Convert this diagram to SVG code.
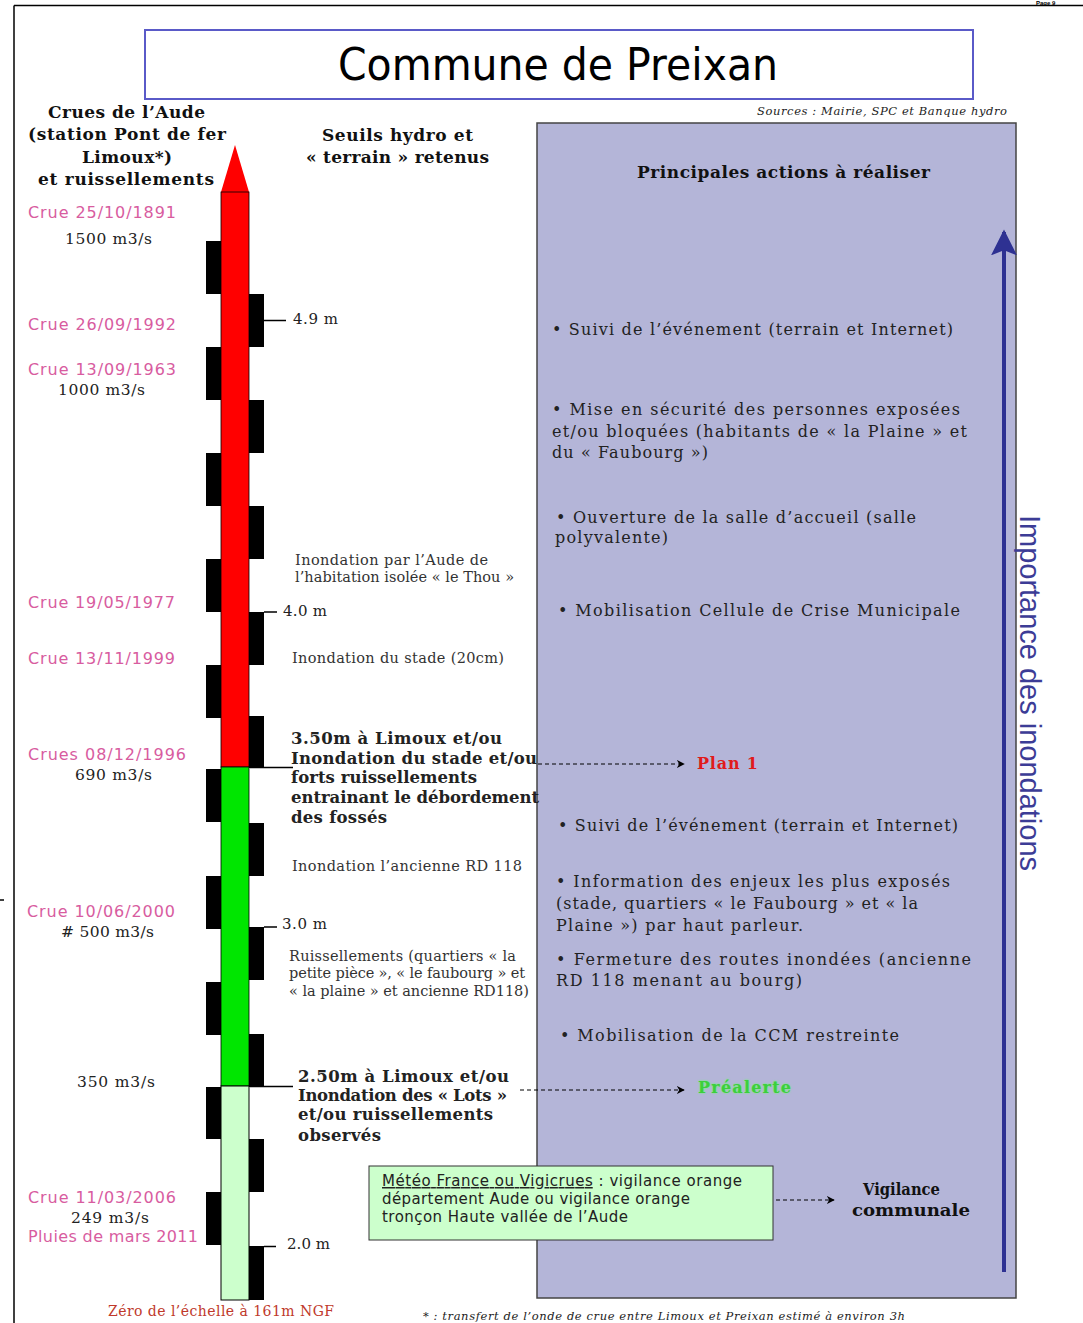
<svg xmlns="http://www.w3.org/2000/svg" width="1083" height="1323" viewBox="0 0 1083 1323">
<style>
.hdr{font-family:"DejaVu Serif","Liberation Serif",serif;font-weight:bold;font-size:17px;fill:#111}
.date{font-family:"DejaVu Sans","Liberation Sans",sans-serif;font-size:16px;fill:#d85c9f}
.flow{font-family:"DejaVu Serif","Liberation Serif",serif;font-size:15.5px;fill:#222}
.small{font-family:"DejaVu Serif","Liberation Serif",serif;font-size:14.5px;fill:#333}
.bold{font-family:"DejaVu Serif","Liberation Serif",serif;font-weight:bold;font-size:16.5px;fill:#222}
.act{font-family:"DejaVu Serif","Liberation Serif",serif;font-size:16px;fill:#222}
.lvl{font-family:"DejaVu Serif","Liberation Serif",serif;font-size:15px;fill:#222}
.blk{fill:#000}
.tick{stroke:#000;stroke-width:1.5}
.dash{stroke:#000;stroke-width:1;stroke-dasharray:4 3;fill:none}
.hand{font-family:"DejaVu Sans","Liberation Sans",sans-serif;font-size:15px;fill:#222}
.ital{font-family:"DejaVu Serif","Liberation Serif",serif;font-style:italic;font-size:11.5px;fill:#222}
.vig{font-family:"DejaVu Serif","Liberation Serif",serif;font-weight:bold;font-size:16px;fill:#111}
</style>
<defs>
<marker id="ah" viewBox="0 0 10 10" refX="9" refY="5" markerWidth="8" markerHeight="8" markerUnits="userSpaceOnUse" orient="auto">
<path d="M0,0 L10,5 L0,10 L3,5 Z" fill="#000"/>
</marker>
<marker id="bh" viewBox="0 0 10 10" refX="9" refY="5" markerWidth="26" markerHeight="26" markerUnits="userSpaceOnUse" orient="auto">
<path d="M0,0 L10,5 L0,10 L2,5 Z" fill="#2e3192"/>
</marker>
<filter id="glow" x="-20%" y="-40%" width="140%" height="180%">
<feGaussianBlur stdDeviation="1.2"/>
</filter>
</defs>
<rect width="1083" height="1323" fill="#fff"/>
<g id="page-frame">
<line x1="14" y1="5.5" x2="1083" y2="5.5" stroke="#000" stroke-width="1.5"/>
<line x1="14" y1="5.5" x2="14" y2="1323" stroke="#000" stroke-width="1.5"/>
<line x1="0" y1="900" x2="4" y2="900" stroke="#000" stroke-width="1.5"/>
<text x="1036" y="4.5" font-family="Liberation Sans,sans-serif" font-weight="bold" font-size="6" fill="#000">Page 9</text>
</g>
<g id="title">
<rect x="145" y="30" width="828" height="69" fill="#fff" stroke="#5a5ac8" stroke-width="2"/>
<text x="338" y="80" font-family="DejaVu Sans,sans-serif" font-size="45" fill="#000" textLength="440" lengthAdjust="spacingAndGlyphs">Commune de Preixan</text>
</g>
<g id="sources">
<text class="ital" x="757" y="115" textLength="250">Sources : Mairie,  SPC et Banque hydro</text>
</g>
<g id="header-crues">
<text class="hdr" x="48" y="118" textLength="157">Crues de l’Aude</text>
<text class="hdr" x="28" y="140" textLength="198">(station Pont de fer</text>
<text class="hdr" x="82" y="163" textLength="90">Limoux*)</text>
<text class="hdr" x="38" y="185" textLength="176">et ruissellements</text>
</g>
<g id="header-seuils">
<text class="hdr" x="322" y="141" textLength="151">Seuils hydro  et</text>
<text class="hdr" x="306" y="163" textLength="183">« terrain » retenus</text>
</g>
<g id="panel">
<rect x="537" y="123" width="479" height="1175" fill="#b4b5d8" stroke="#444" stroke-width="1.5"/>
<text class="hdr" x="637" y="178" textLength="293">Principales actions à réaliser</text>
</g>
<g id="scale">
<polygon points="235,145 249,192 221,192" fill="#ff0000"/>
<rect x="221" y="192" width="28" height="575" fill="#ff0000" stroke="#000" stroke-width="0.8"/>
<rect x="221" y="767" width="28" height="319" fill="#00e600" stroke="#000" stroke-width="0.8"/>
<rect x="221" y="1086" width="28" height="214" fill="#ccffcc" stroke="#000" stroke-width="1"/>
<rect class="blk" x="206" y="241" width="15" height="53"/>
<rect class="blk" x="249" y="294" width="15" height="53"/>
<rect class="blk" x="206" y="347" width="15" height="53"/>
<rect class="blk" x="249" y="400" width="15" height="53"/>
<rect class="blk" x="206" y="453" width="15" height="53"/>
<rect class="blk" x="249" y="506" width="15" height="53"/>
<rect class="blk" x="206" y="559" width="15" height="53"/>
<rect class="blk" x="249" y="612" width="15" height="53"/>
<rect class="blk" x="206" y="665" width="15" height="53"/>
<rect class="blk" x="249" y="716" width="15" height="52"/>
<rect class="blk" x="206" y="769" width="15" height="53"/>
<rect class="blk" x="249" y="823" width="15" height="53"/>
<rect class="blk" x="206" y="876" width="15" height="53"/>
<rect class="blk" x="249" y="927" width="15" height="53"/>
<rect class="blk" x="206" y="982" width="15" height="53"/>
<rect class="blk" x="249" y="1034" width="15" height="53"/>
<rect class="blk" x="206" y="1087" width="15" height="52"/>
<rect class="blk" x="249" y="1139" width="15" height="53"/>
<rect class="blk" x="206" y="1192" width="15" height="53"/>
<rect class="blk" x="249" y="1246" width="15" height="54"/>
<line class="tick" x1="264" y1="320.5" x2="286" y2="320.5"/>
<line class="tick" x1="264" y1="612" x2="277" y2="612"/>
<line class="tick" x1="250" y1="767.5" x2="293" y2="767.5"/>
<line class="tick" x1="264" y1="927" x2="277" y2="927"/>
<line class="tick" x1="250" y1="1086.5" x2="293" y2="1086.5"/>
<line class="tick" x1="264" y1="1246.5" x2="276" y2="1246.5"/>
<text class="lvl" x="293" y="324" textLength="45">4.9 m</text>
<text class="lvl" x="283" y="615.5" textLength="44">4.0 m</text>
<text class="lvl" x="282" y="929" textLength="45">3.0 m</text>
<text class="lvl" x="287" y="1249" textLength="43">2.0 m</text>
</g>
<g id="crues">
<text class="date" x="28" y="218" textLength="148">Crue 25/10/1891</text>
<text class="flow" x="65" y="244" textLength="87">1500 m3/s</text>
<text class="date" x="28" y="330" textLength="148">Crue 26/09/1992</text>
<text class="date" x="28" y="375" textLength="148">Crue 13/09/1963</text>
<text class="flow" x="58" y="395" textLength="87">1000 m3/s</text>
<text class="date" x="28" y="608" textLength="147">Crue 19/05/1977</text>
<text class="date" x="28" y="664" textLength="147">Crue 13/11/1999</text>
<text class="date" x="28" y="760" textLength="158">Crues 08/12/1996</text>
<text class="flow" x="75" y="780" textLength="77">690 m3/s</text>
<text class="date" x="27" y="917" textLength="148">Crue 10/06/2000</text>
<text class="flow" x="61" y="937" textLength="93"># 500 m3/s</text>
<text class="flow" x="77" y="1087" textLength="78">350 m3/s</text>
<text class="date" x="28" y="1203" textLength="148">Crue 11/03/2006</text>
<text class="flow" x="71" y="1223" textLength="78">249 m3/s</text>
<text class="date" x="28" y="1242" textLength="170">Pluies de mars 2011</text>
<text x="108" y="1316" font-family="DejaVu Serif,Liberation Serif,serif" font-size="14" fill="#c0392b" textLength="226">Zéro de l’échelle à 161m NGF</text>
</g>
<g id="seuils">
<text class="small" x="295" y="565" textLength="193">Inondation par l’Aude de</text>
<text class="small" x="295" y="582" textLength="219">l’habitation isolée « le Thou »</text>
<text class="small" x="292" y="663" textLength="212">Inondation du stade (20cm)</text>
<text class="bold" x="291" y="744" textLength="211">3.50m à Limoux et/ou</text>
<text class="bold" x="291" y="764" textLength="246">Inondation du stade et/ou</text>
<text class="bold" x="291" y="783" textLength="186">forts ruissellements</text>
<text class="bold" x="291" y="803" textLength="248">entrainant le débordement</text>
<text class="bold" x="291" y="823" textLength="96">des fossés</text>
<text class="small" x="292" y="871" textLength="230">Inondation l’ancienne RD 118</text>
<text class="small" x="289" y="961" textLength="227">Ruissellements (quartiers « la</text>
<text class="small" x="289" y="978" textLength="236">petite pièce », « le faubourg » et</text>
<text class="small" x="289" y="996" textLength="240">« la plaine » et ancienne RD118)</text>
<text class="bold" x="298" y="1082" textLength="211">2.50m à Limoux et/ou</text>
<text class="bold" x="298" y="1101" textLength="209">Inondation des « Lots »</text>
<text class="bold" x="298" y="1120" textLength="195">et/ou ruissellements</text>
<text class="bold" x="298" y="1141" textLength="83">observés</text>
</g>
<g id="actions-plan1">
<text class="act" x="552" y="335" textLength="401">• Suivi de l’événement (terrain et Internet)</text>
<text class="act" x="552" y="415" textLength="408">•  Mise en sécurité des personnes exposées</text>
<text class="act" x="552" y="437" textLength="415">et/ou bloquées (habitants de « la Plaine » et</text>
<text class="act" x="552" y="458" textLength="156">du  « Faubourg  »)</text>
<text class="act" x="556" y="523" textLength="360">• Ouverture de la salle d’accueil (salle</text>
<text class="act" x="555" y="543" textLength="113">polyvalente)</text>
<text class="act" x="558" y="616" textLength="402">• Mobilisation Cellule de Crise Municipale</text>
</g>
<g id="actions-prealerte">
<text class="act" x="558" y="831" textLength="400">• Suivi de l’événement (terrain et Internet)</text>
<text class="act" x="556" y="887" textLength="394">• Information des  enjeux les plus  exposés</text>
<text class="act" x="556" y="909" textLength="362">(stade, quartiers « le Faubourg  » et « la</text>
<text class="act" x="556" y="931" textLength="247">Plaine ») par  haut parleur.</text>
<text class="act" x="556" y="965" textLength="415">• Fermeture des routes inondées (ancienne</text>
<text class="act" x="556" y="986" textLength="246">RD  118  menant au bourg)</text>
<text class="act" x="560" y="1041" textLength="339">• Mobilisation de la CCM restreinte</text>
</g>
<g id="plan1">
<text x="697" y="769" font-family="DejaVu Serif,Liberation Serif,serif" font-weight="bold" font-size="16" fill="#e01b1b" textLength="61">Plan 1</text>
</g>
<g id="prealerte">
<text x="698" y="1093" font-family="DejaVu Serif,Liberation Serif,serif" font-weight="bold" font-size="16" fill="#66ff66" filter="url(#glow)" textLength="93">Préalerte</text>
<text x="698" y="1093" font-family="DejaVu Serif,Liberation Serif,serif" font-weight="bold" font-size="16" fill="#3ccf3c" textLength="93">Préalerte</text>
</g>
<g id="meteo">
<rect x="369" y="1166" width="404" height="74" fill="#ccffcc" stroke="#333" stroke-width="1"/>
<text class="hand" x="382" y="1186" textLength="360"><tspan text-decoration="underline">Météo France ou Vigicrues</tspan> : vigilance orange</text>
<text class="hand" x="382" y="1204" textLength="308">département  Aude  ou vigilance orange</text>
<text class="hand" x="382" y="1222" textLength="246">tronçon Haute vallée de l’Aude</text>
</g>
<g id="vigilance">
<text class="vig" x="863" y="1195" textLength="77" lengthAdjust="spacingAndGlyphs">Vigilance</text>
<text class="vig" x="852" y="1216" textLength="118" lengthAdjust="spacingAndGlyphs">communale</text>
</g>
<g id="importance">
<text transform="translate(1020,515) rotate(90)" font-family="Liberation Sans,Arial,sans-serif" font-size="29" fill="#3c3c96" textLength="356">Importance des inondations</text>
</g>
<g id="footnote">
<text class="ital" x="423" y="1320" textLength="482">* : transfert de l’onde de crue entre Limoux  et Preixan  estimé à environ 3h</text>
</g>
<g id="connectors">
<line class="dash" x1="538" y1="764" x2="684" y2="764" marker-end="url(#ah)"/>
<line class="dash" x1="520" y1="1090" x2="684" y2="1090" marker-end="url(#ah)"/>
<line class="dash" x1="776" y1="1200" x2="834" y2="1200" marker-end="url(#ah)"/>
<line x1="1004" y1="1272" x2="1004" y2="232" stroke="#2e3192" stroke-width="4" marker-end="url(#bh)"/>
</g>
</svg>
